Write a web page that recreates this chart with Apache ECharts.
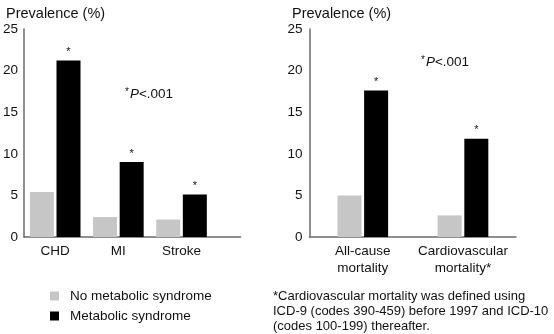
<!DOCTYPE html>
<html>
<head>
<meta charset="utf-8">
<script src="https://cdn.jsdelivr.net/npm/echarts@6/dist/echarts.min.js"></script>
<style>
  html, body { margin: 0; padding: 0; background: #fff; }
  #chart { width: 554px; height: 334px; }
</style>
</head>
<body>
<div id="chart"></div>
<script>
// data
const leftCats = ['CHD', 'MI', 'Stroke'];
const leftNoMetS = [5.4, 2.4, 2.1];
const leftMetS = [21.2, 9.0, 5.1];

const rightCats = ['All-cause\nmortality', 'Cardiovascular\nmortality*'];
const rightNoMetS = [5.0, 2.6];
const rightMetS = [17.6, 11.8];

const yTicks = { min: 0, max: 25, interval: 5 };

const FONT = '"Liberation Sans", Arial, sans-serif';
const GREY = '#c6c6c6';
const AXIS = '#6a6a6a';

const chart = echarts.init(document.getElementById('chart'));

// grids: 0/2 hold the bars, 1/3 only draw the (longer) axis lines + y labels
const gTop = 29, gH = 208;

function barAxisX(cats, idx) {
  return {
    type: 'category', gridIndex: idx, data: cats,
    axisLine: { show: false }, axisTick: { show: false },
    axisLabel: { interval: 0, margin: 6, color: '#111', fontSize: 13.5, fontFamily: FONT, lineHeight: 17 }
  };
}
function lineAxisX(idx) {
  return {
    type: 'value', gridIndex: idx, min: 0, max: 1,
    axisLine: { show: true, lineStyle: { color: AXIS, width: 1.5 } },
    axisTick: { show: false }, axisLabel: { show: false }, splitLine: { show: false }
  };
}
function hiddenY(idx) {
  return { type: 'value', gridIndex: idx, min: yTicks.min, max: yTicks.max, show: false };
}
function shownY(idx, margin) {
  return {
    type: 'value', gridIndex: idx, min: yTicks.min, max: yTicks.max, interval: yTicks.interval,
    axisLine: { show: true, lineStyle: { color: AXIS, width: 1.5 } },
    axisTick: { show: false }, splitLine: { show: false },
    axisLabel: { margin: margin, color: '#111', fontSize: 13.5, fontFamily: FONT }
  };
}
function bars(name, data, color, idx, star) {
  return {
    name: name, type: 'bar', xAxisIndex: idx, yAxisIndex: idx, data: data,
    barWidth: 24, barGap: '11%',
    itemStyle: { color: color },
    label: star ? { show: true, position: 'top', distance: 3, formatter: '*', fontSize: 11, color: '#111', fontFamily: FONT } : { show: false },
    emphasis: { disabled: true }
  };
}

const pRich = {
  s: { fontSize: 10, fontWeight: 'normal', fontFamily: FONT, color: '#111', verticalAlign: 'top', padding: [0, 1, 4, 0] },
  i: { fontSize: 13.5, fontWeight: 'normal', fontFamily: FONT, fontStyle: 'italic', color: '#111' },
  n: { fontSize: 13.5, fontWeight: 'normal', fontFamily: FONT, color: '#111' }
};
const pText = '{s|*}{i|P}{n|<.001}';

chart.setOption({
  animation: false,
  textStyle: { fontFamily: FONT },
  title: [
    { text: 'Prevalence (%)', left: 1, top: 1, textStyle: { fontSize: 14.5, fontWeight: 'normal', color: '#111', fontFamily: FONT } },
    { text: 'Prevalence (%)', left: 287, top: 1, textStyle: { fontSize: 14.5, fontWeight: 'normal', color: '#111', fontFamily: FONT } },
    { text: pText, left: 120, top: 82, textStyle: { fontWeight: 'normal', rich: pRich } },
    { text: pText, left: 416, top: 50, textStyle: { fontWeight: 'normal', rich: pRich } },
    {
      text: '*Cardiovascular mortality was defined using\nICD-9 (codes 390-459) before 1997 and ICD-10\n(codes 100-199) thereafter.',
      left: 268, top: 284,
      textStyle: { fontSize: 13, fontWeight: 'normal', color: '#111', fontFamily: FONT, lineHeight: 15 }
    }
  ],
  legend: {
    orient: 'vertical', left: 45, top: 284,
    itemWidth: 9, itemHeight: 9, itemGap: 6, icon: 'rect',
    selectedMode: false,
    textStyle: { fontSize: 13.5, color: '#111', fontFamily: FONT, padding: [0, 0, 0, 6] },
    data: ['No metabolic syndrome', 'Metabolic syndrome']
  },
  grid: [
    { left: 23.6, width: 189.5, top: gTop, height: gH },
    { left: 21, width: 219.5, top: gTop, height: gH },
    { left: 312.7, width: 200.4, top: gTop, height: gH },
    { left: 309.5, width: 206.5, top: gTop, height: gH }
  ],
  xAxis: [barAxisX(leftCats, 0), lineAxisX(1), barAxisX(rightCats, 2), lineAxisX(3)],
  yAxis: [hiddenY(0), shownY(1, 6), hiddenY(2), shownY(3, 7)],
  series: [
    bars('No metabolic syndrome', leftNoMetS, GREY, 0, false),
    bars('Metabolic syndrome', leftMetS, '#000', 0, true),
    bars('No metabolic syndrome', rightNoMetS, GREY, 2, false),
    bars('Metabolic syndrome', rightMetS, '#000', 2, true)
  ]
});
</script>
</body>
</html>
